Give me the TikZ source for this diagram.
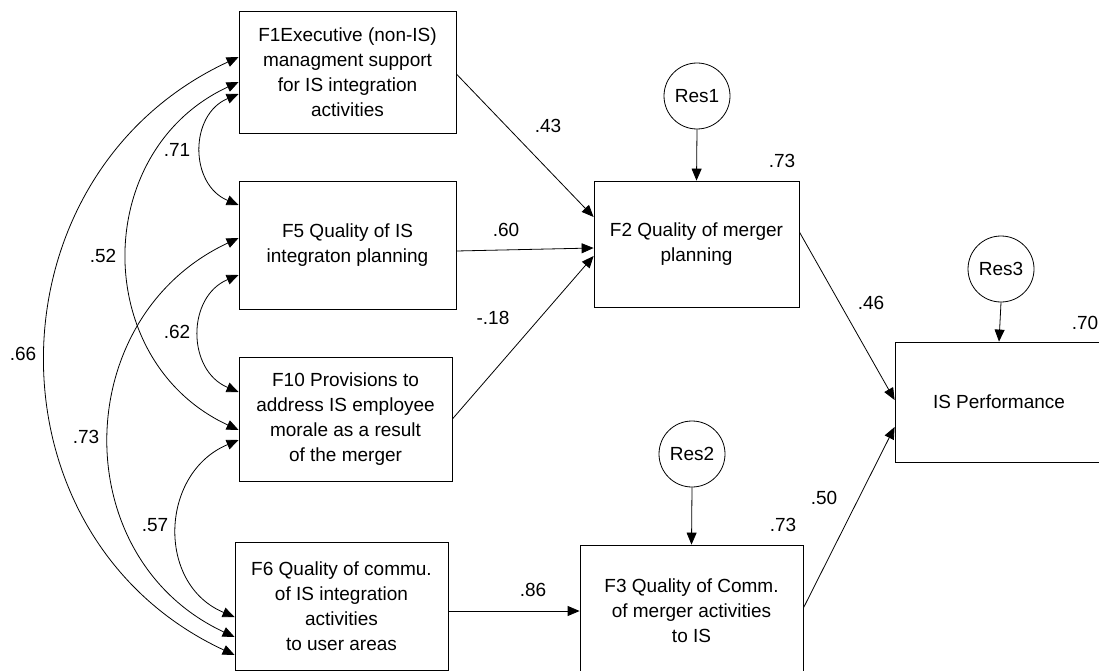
\documentclass[tikz,border=0pt]{standalone}
\usepackage{fontspec}
\setmainfont{Liberation Sans}
\usetikzlibrary{arrows.meta}

\tikzset{
  txt/.style={font=\fontsize{19}{25}\selectfont},
  factor/.style={txt, draw, rectangle, inner sep=0pt, align=center, line width=0.8pt},
  resid/.style={txt, draw, circle, minimum size=66pt, inner sep=0pt, line width=0.8pt},
  coef/.style={txt, inner sep=0pt},
  effect/.style={-{Triangle[length=12pt,width=10pt]}, line width=0.8pt},
  corr/.style={{Triangle[length=12pt,width=10pt]}-{Triangle[length=12pt,width=10pt]}, line width=0.8pt}
}

\begin{document}
\begin{tikzpicture}[x=1pt,y=-1pt]
\useasboundingbox (0,0) rectangle (1099,671);
\clip (0,0) rectangle (1099,671);

\node[factor, minimum width=217pt, minimum height=122pt] (f1) at (347.5,72) {F1Executive (non-IS)\\managment support\\for IS integration\\activities};
\node[factor, minimum width=217pt, minimum height=128pt] (f5) at (347.5,245) {F5 Quality of IS\\integraton planning};
\node[factor, minimum width=213pt, minimum height=124pt] (f10) at (345.5,419) {F10 Provisions to\\address IS employee\\morale as a result\\of the merger};
\node[factor, minimum width=213pt, minimum height=128pt] (f6) at (341.5,606) {F6 Quality of commu.\\of IS integration\\activities\\to user areas};
\node[factor, minimum width=205pt, minimum height=126pt] (f2) at (696.5,244) {F2 Quality of merger\\planning};
\node[factor, minimum width=223pt, minimum height=132pt] (f3) at (691.5,611) {F3 Quality of Comm.\\of merger activities\\to IS};
\node[factor, minimum width=208pt, minimum height=120pt] (perf) at (999,402) {IS Performance};

\node[resid] (res1) at (697,96) {Res1};
\node[resid] (res2) at (692,454) {Res2};
\node[resid] (res3) at (1001,269) {Res3};

\draw[effect] (res1.south) -- (f2.north);
\draw[effect] (res2.south) -- (f3.north);
\draw[effect] (res3.south) -- (perf.north);

\draw[effect] ([yshift=-2pt]f1.east) -- ([yshift=27pt]f2.west);
\draw[effect] ([yshift=-6pt]f5.east) -- ([yshift=-4pt]f2.west);
\draw[effect] (f10.east) -- ([yshift=-12pt]f2.west);
\draw[effect] (f6.east |- f3.west) -- (f3.west);
\draw[effect] ([yshift=12pt]f2.east) -- ([yshift=2pt]perf.west);
\draw[effect] ([yshift=3pt]f3.east) -- ([yshift=-25pt]perf.west);

\draw[corr] ([yshift=-22pt]f1.west) .. controls +(-49.4,20.6) and +(-49.4,-20.6) .. ([yshift=40pt]f5.west);
\draw[corr] ([yshift=-30pt]f5.west) .. controls +(-52,21.7) and +(-52,-21.7) .. ([yshift=27pt]f10.west);
\draw[corr] ([yshift=-21pt]f10.west) .. controls +(-78.7,32.8) and +(-78.7,-32.8) .. ([yshift=-11pt]f6.west);
\draw[corr] ([yshift=-10pt]f1.west) .. controls +(-148,68.6) and +(-148,-68.6) .. ([yshift=-11pt]f10.west);
\draw[corr] ([yshift=7pt]f5.west) .. controls +(-169.5,79) and +(-169.5,-79) .. ([yshift=-31pt]f6.west);
\draw[corr] ([yshift=15pt]f1.west) .. controls +(-254,118) and +(-254,-118) .. ([yshift=-49pt]f6.west);

\node[coef] (c43) at (548,126) {.43};
\node[coef] (c60) at (506,230) {.60};
\node[coef] (c18) at (493,318) {-.18};
\node[coef] (r2a) at (782,161) {.73};
\node[coef] (c46) at (871,303) {.46};
\node[coef] (r2c) at (1085,323) {.70};
\node[coef] (c50) at (824,498) {.50};
\node[coef] (r2b) at (783,525) {.73};
\node[coef] (c86) at (533,590) {.86};
\node[coef] (k71) at (177,150) {.71};
\node[coef] (k62) at (177,332) {.62};
\node[coef] (k52) at (103,256) {.52};
\node[coef] (k66) at (23,354) {.66};
\node[coef] (k73) at (86,437) {.73};
\node[coef] (k57) at (155,525) {.57};
\end{tikzpicture}
\end{document}
